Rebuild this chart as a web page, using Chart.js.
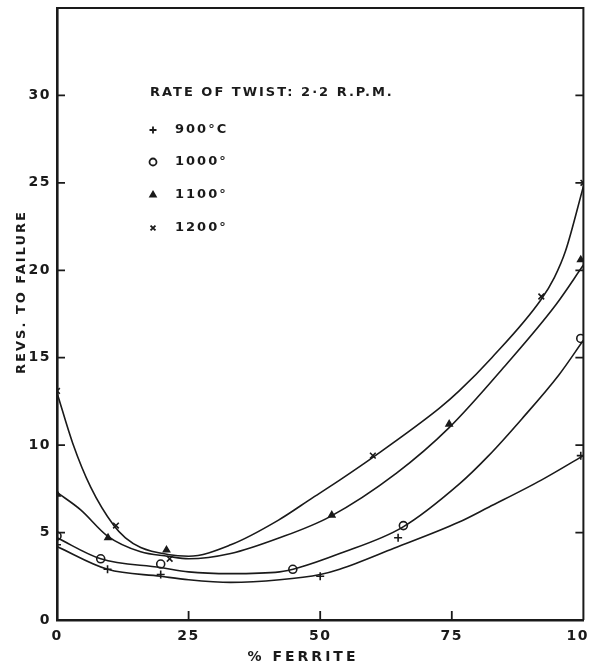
<!DOCTYPE html>
<html>
<head>
<meta charset="utf-8">
<script src="https://cdn.jsdelivr.net/npm/chart.js@4"></script>
<style>
  html, body { margin: 0; padding: 0; background: #fff; }
  #wrap { width: 589px; height: 671px; }
</style>
</head>
<body>
<div id="wrap"><canvas id="twistChart" width="589" height="671"></canvas></div>
<script>
// Axis ticks
const ferriteTicks = [0, 25, 50, 75, 100];
const revsTicks = [0, 5, 10, 15, 20, 25, 30];

// Measured points (% ferrite, revs to failure)
const pts900X = [0, 9.6, 19.7, 50, 64.8, 99.5];
const pts900Y = [4.3, 2.9, 2.6, 2.5, 4.7, 9.4];
const pts1000X = [0, 8.3, 19.7, 44.8, 65.8, 99.5];
const pts1000Y = [4.8, 3.5, 3.2, 2.9, 5.4, 16.1];
const pts1100X = [0, 9.7, 20.8, 52.2, 74.5, 99.5];
const pts1100Y = [7.2, 4.7, 4.0, 6.0, 11.2, 20.6];
const pts1200X = [0, 11.2, 21.4, 60, 92, 100];
const pts1200Y = [13.1, 5.4, 3.5, 9.4, 18.5, 25.0];

// Hand-drawn fitted curves
const curve900X = [0, 9.6, 19.7, 25, 33, 42.3, 50, 53.7, 64, 76.4, 82, 92, 100];
const curve900Y = [4.2, 2.9, 2.5, 2.3, 2.15, 2.3, 2.6, 2.9, 4.1, 5.6, 6.45, 8.0, 9.4];
const curve1000X = [0, 8.3, 19.7, 25, 33, 42.3, 46, 53.7, 65.6, 76.5, 82, 88.3, 95.3, 100];
const curve1000Y = [4.7, 3.5, 3.0, 2.75, 2.65, 2.75, 3.0, 3.8, 5.3, 7.8, 9.4, 11.5, 14.0, 16.0];
const curve1100X = [0, 4.5, 9.6, 15.9, 21, 25, 33, 42.3, 51.8, 64.5, 74.5, 85.3, 94.7, 100];
const curve1100Y = [7.3, 6.3, 4.8, 3.9, 3.65, 3.5, 3.8, 4.7, 5.9, 8.4, 11.0, 14.6, 18.0, 20.3];
const curve1200X = [0, 3, 6.4, 10.8, 13, 15.9, 21, 25, 33, 42, 48.6, 53.7, 60, 72.6, 76.4, 82.6, 91.9, 94.5, 96.6, 100];
const curve1200Y = [13.0, 10.1, 7.6, 5.4, 4.7, 4.15, 3.75, 3.65, 4.3, 5.7, 7.0, 8.0, 9.3, 12.1, 13.1, 15.0, 18.3, 19.6, 21.1, 24.8];

const legendTitle = 'RATE OF TWIST: 2·2 R.P.M.';
const legendLabels = ['900°C', '1000°', '1100°', '1200°'];
const legendStyles = ['cross', 'circle', 'triangle', 'crossRot'];

const INK = '#1a1a1a';
const FONT = '"DejaVu Sans", sans-serif';

const zip = (xs, ys) => xs.map((x, i) => ({ x: x, y: ys[i] }));

function curveSet(xs, ys) {
    return {
        data: zip(xs, ys),
        showLine: true,
        borderColor: INK,
        borderWidth: 1.6,
        pointRadius: 0,
        cubicInterpolationMode: 'monotone',
        fill: false
    };
}

function pointSet(xs, ys, style) {
    return {
        data: zip(xs, ys),
        showLine: false,
        pointStyle: style,
        pointRadius: style === 'triangle' ? 3.5 : 4,
        pointBorderWidth: 1.6,
        borderColor: INK,
        backgroundColor: style === 'triangle' ? INK : 'rgba(0,0,0,0)'
    };
}

// Box outline, inward tick marks, legend and axis titles
const decorPlugin = {
    id: 'decor',
    beforeDraw(chart) {
        const ctx = chart.ctx;
        ctx.save();
        ctx.fillStyle = '#fff';
        ctx.fillRect(0, 0, chart.width, chart.height);
        ctx.restore();
        ctx.letterSpacing = '1.5px';
    },
    afterDraw(chart) {
        const ctx = chart.ctx;
        const area = chart.chartArea;
        const xs = chart.scales.x;
        const ys = chart.scales.y;
        ctx.save();
        ctx.strokeStyle = INK;
        ctx.fillStyle = INK;

        // top and right frame
        ctx.lineWidth = 2;
        ctx.beginPath();
        ctx.moveTo(area.left, area.top);
        ctx.lineTo(area.right, area.top);
        ctx.lineTo(area.right, area.bottom);
        ctx.stroke();

        // inward ticks
        ctx.lineWidth = 1.8;
        ctx.beginPath();
        revsTicks.slice(1).forEach(v => {
            const py = ys.getPixelForValue(v);
            ctx.moveTo(area.left, py); ctx.lineTo(area.left + 8, py);
            ctx.moveTo(area.right, py); ctx.lineTo(area.right - 8, py);
        });
        ferriteTicks.slice(1, -1).forEach(v => {
            const px = xs.getPixelForValue(v);
            ctx.moveTo(px, area.bottom); ctx.lineTo(px, area.bottom - 9);
        });
        ctx.stroke();

        // legend
        ctx.font = 'bold 13px ' + FONT;
        ctx.letterSpacing = '2px';
        ctx.textBaseline = 'middle';
        ctx.textAlign = 'left';
        ctx.fillText(legendTitle, 150, 93);
        const rowY = [130, 162, 195, 228];
        legendLabels.forEach((label, i) => {
            const y = rowY[i];
            const filled = legendStyles[i] === 'triangle';
            ctx.fillStyle = filled ? INK : 'rgba(0,0,0,0)';
            Chart.helpers.drawPoint(ctx, {
                pointStyle: legendStyles[i],
                radius: filled ? 3.2 : 3.5,
                borderWidth: 1.6
            }, 153, y);
            ctx.fillStyle = INK;
            ctx.fillText(label, 175, y);
        });

        // axis titles
        ctx.letterSpacing = '2px';
        ctx.textAlign = 'center';
        ctx.save();
        ctx.translate(22, 292);
        ctx.rotate(-Math.PI / 2);
        ctx.fillText('REVS. TO FAILURE', 0, 0);
        ctx.restore();
        ctx.font = 'bold 14px ' + FONT;
        ctx.letterSpacing = '3px';
        ctx.fillText('% FERRITE', 303, 657);

        ctx.restore();
        ctx.letterSpacing = '0px';
    }
};

const chart = new Chart(document.getElementById('twistChart'), {
    type: 'scatter',
    data: {
        datasets: [
            curveSet(curve900X, curve900Y),
            curveSet(curve1000X, curve1000Y),
            curveSet(curve1100X, curve1100Y),
            curveSet(curve1200X, curve1200Y),
            pointSet(pts900X, pts900Y, 'cross'),
            pointSet(pts1000X, pts1000Y, 'circle'),
            pointSet(pts1100X, pts1100Y, 'triangle'),
            pointSet(pts1200X, pts1200Y, 'crossRot')
        ]
    },
    options: {
        responsive: false,
        devicePixelRatio: 1,
        animation: false,
        layout: { padding: { left: 0, right: 4, top: 8, bottom: 0 } },
        plugins: {
            legend: { display: false },
            tooltip: { enabled: false }
        },
        scales: {
            x: {
                type: 'linear',
                min: 0,
                max: 100,
                afterBuildTicks: scale => {
                    scale.ticks = ferriteTicks.map(v => ({ value: v }));
                },
                afterFit: scale => {
                    scale.height = 51;
                    scale.paddingLeft = 0;
                    scale.paddingRight = 0;
                },
                grid: { display: false, drawTicks: false },
                border: { display: true, color: INK, width: 2.6 },
                ticks: {
                    color: INK,
                    padding: 8,
                    maxRotation: 0,
                    font: { family: FONT, size: 14, weight: 'bold' }
                }
            },
            y: {
                type: 'linear',
                min: 0,
                max: 35,
                afterBuildTicks: scale => {
                    scale.ticks = revsTicks.map(v => ({ value: v }));
                },
                afterFit: scale => {
                    scale.width = 57;
                    scale.paddingTop = 0;
                    scale.paddingBottom = 0;
                },
                grid: { display: false, drawTicks: false },
                border: { display: true, color: INK, width: 2.6 },
                ticks: {
                    color: INK,
                    padding: 6,
                    font: { family: FONT, size: 14, weight: 'bold' }
                }
            }
        }
    },
    plugins: [decorPlugin]
});
</script>
</body>
</html>
